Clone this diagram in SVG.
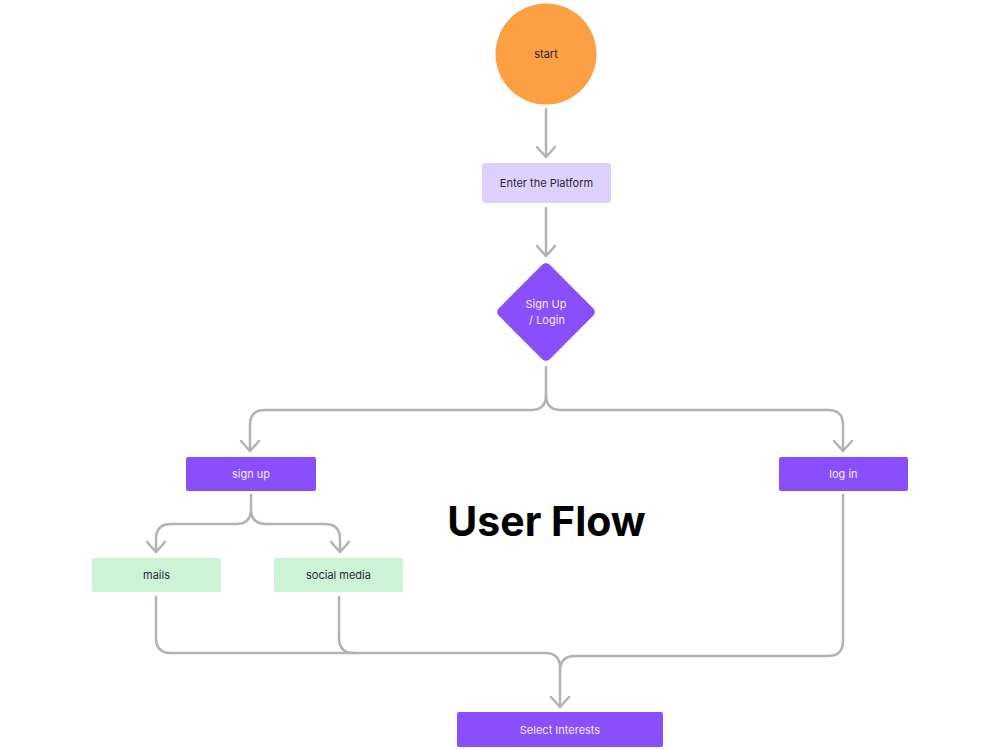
<svg xmlns="http://www.w3.org/2000/svg" width="1000" height="750" viewBox="0 0 1000 750">
<defs>
<marker id="arr" viewBox="-12 -12 24 24" markerWidth="24" markerHeight="24" refX="0" refY="0" orient="auto" markerUnits="userSpaceOnUse">
<path d="M-10,-9 L0,0 L-10,9" fill="none" stroke="#b3b3b3" stroke-width="2.5" stroke-linecap="round" stroke-linejoin="round"/>
</marker>
<style>
.ln{fill:none;stroke:#b3b3b3;stroke-width:2.5;stroke-linecap:round;stroke-linejoin:round}
.t{font-family:Inter,"Liberation Sans",sans-serif;font-size:11px;text-anchor:middle;dominant-baseline:central}
.dark{fill:#2b2838}
.light{fill:#f2ecff}
.purple{fill:#8a4ffc}
.green{fill:#cdf3d6}
</style>
</defs>
<rect width="1000" height="750" fill="#ffffff"/>
<g id="connectors">
<path class="ln" d="M546,109 V157" marker-end="url(#arr)"/>
<path class="ln" d="M546,208 V256" marker-end="url(#arr)"/>
<path class="ln" d="M546,367 V395 Q546,410 531,410 H265 Q250,410 250,425 V451" marker-end="url(#arr)"/>
<path class="ln" d="M546,395 Q546,410 561,410 H828 Q843,410 843,425 V451" marker-end="url(#arr)"/>
<path class="ln" d="M251,495 V509 Q251,524 236,524 H171 Q156,524 156,539 V552" marker-end="url(#arr)"/>
<path class="ln" d="M251,509 Q251,524 266,524 H325 Q340,524 340,539 V552" marker-end="url(#arr)"/>
<path class="ln" d="M156,597 V638 Q156,653 171,653 H545 Q560,653 560,668 V707" marker-end="url(#arr)"/>
<path class="ln" d="M339,597 V638 Q339,653 354,653"/>
<path class="ln" d="M843,495 V641 Q843,656 828,656 H575 Q560,656 560,671"/>
</g>
<g id="start">
<circle cx="546" cy="54" r="50.5" fill="#fd9f43"/>
<text class="t dark" x="546" y="54">start</text>
</g>
<g id="enter">
<rect x="482" y="163" width="129" height="40" rx="3" fill="#ddd0fd"/>
<text class="t dark" x="546.5" y="183">Enter the Platform</text>
</g>
<g id="signup-login">
<rect x="510" y="276" width="72" height="72" rx="5" class="purple" transform="rotate(45 546 312)"/>
<text class="t light" x="546" y="304">Sign Up</text>
<text class="t light" x="547" y="320">/ Login</text>
</g>
<g id="signup">
<rect x="186" y="457" width="130" height="34" rx="2" class="purple"/>
<text class="t light" x="251" y="474">sign up</text>
</g>
<g id="login">
<rect x="779" y="457" width="129" height="34" rx="2" class="purple"/>
<text class="t light" x="843.5" y="474">log in</text>
</g>
<g id="mails">
<rect x="92" y="558" width="129" height="34" rx="2" class="green"/>
<text class="t dark" x="156.5" y="575">mails</text>
</g>
<g id="social">
<rect x="274" y="558" width="129" height="34" rx="2" class="green"/>
<text class="t dark" x="338.5" y="575">social media</text>
</g>
<g id="interests">
<rect x="457" y="712" width="206" height="35" rx="2" class="purple"/>
<text class="t light" x="560" y="730">Select Interests</text>
</g>
<g id="title">
<text x="546.5" y="536" font-family="Inter,'Liberation Sans',sans-serif" font-size="41" font-weight="700" text-anchor="middle" fill="#000000">User Flow</text>
</g>
</svg>
